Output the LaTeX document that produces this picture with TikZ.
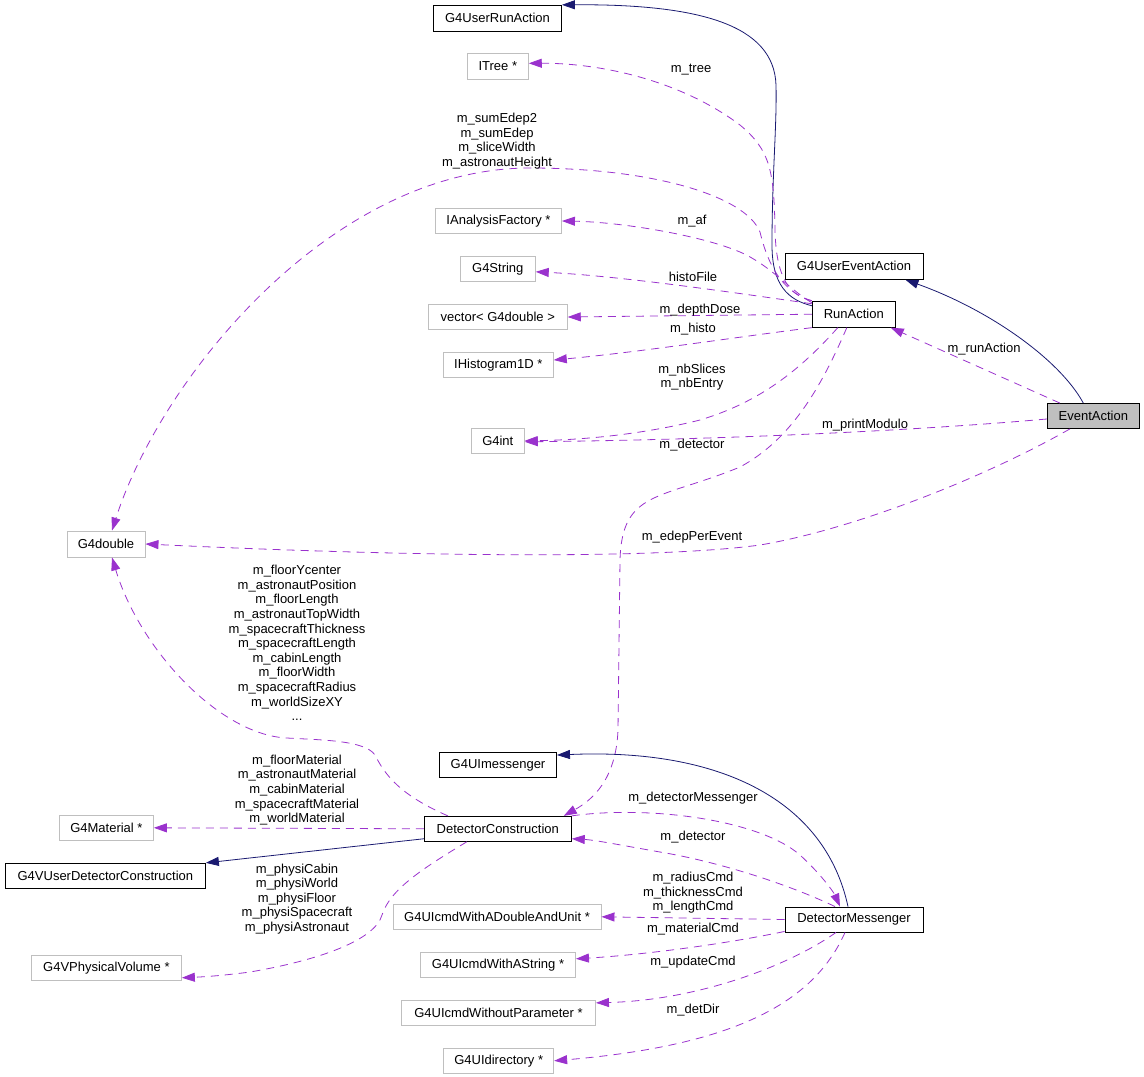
\documentclass[tikz,border=0pt]{standalone}
\usepackage{fontspec}
\setmainfont{Liberation Sans}
\usetikzlibrary{arrows.meta,calc}
\definecolor{navy}{HTML}{191970}
\definecolor{orchid}{HTML}{9A32CD}
\definecolor{boxgray}{HTML}{BFBFBF}
\begin{document}
\begin{tikzpicture}[x=1pt,y=-1pt,
  font=\fontsize{13}{14.6}\selectfont,
  cls/.style={draw=black,line width=0.9pt,inner sep=0pt,minimum height=25pt,align=center},
  ext/.style={draw=boxgray,line width=0.9pt,inner sep=0pt,minimum height=25pt,align=center},
  cur/.style={cls,fill=boxgray},
  inh/.style={draw=navy,line width=0.8pt,-{Triangle[length=13pt,width=9pt]},fill=none},
  mem/.style={draw=orchid,line width=0.8pt,dash pattern=on 8pt off 6pt,-{Triangle[length=13pt,width=9pt,fill=orchid]}},
  lbl/.style={inner sep=0pt,align=center}]
\useasboundingbox (0,0) rectangle (1144,1077);
% nodes
\node[cls,minimum width=128pt,minimum height=26pt] (urun) at (497.5,18.3) {G4UserRunAction};
\node[ext,minimum width=61pt,minimum height=26pt] (itree) at (497.8,66.3) {ITree *};
\node[ext,minimum width=126pt] (iaf) at (498.5,221) {IAnalysisFactory *};
\node[ext,minimum width=75pt] (g4str) at (497.8,268.8) {G4String};
\node[ext,minimum width=139pt] (vec) at (497.8,317) {vector< G4double >};
\node[ext,minimum width=110pt] (ihist) at (498.3,365) {IHistogram1D *};
\node[ext,minimum width=53pt] (g4int) at (497.8,440.8) {G4int};
\node[cls,minimum width=138pt,minimum height=26pt] (uevt) at (854,266.3) {G4UserEventAction};
\node[cls,minimum width=83pt,minimum height=26pt] (run) at (853.8,314.2) {RunAction};
\node[cur,minimum width=92pt] (evt) at (1093.3,416) {EventAction};
\node[ext,minimum width=78pt,minimum height=26pt] (g4d) at (106,544) {G4double};
\node[cls,minimum width=117pt] (uimsg) at (498,765) {G4UImessenger};
\node[ext,minimum width=94pt] (g4mat) at (106.4,827.8) {G4Material *};
\node[cls,minimum width=147pt] (dc) at (497.8,828.8) {DetectorConstruction};
\node[cls,minimum width=200pt] (vudc) at (105.4,875.8) {G4VUserDetectorConstruction};
\node[ext,minimum width=208pt] (cmddu) at (497,916.8) {G4UIcmdWithADoubleAndUnit *};
\node[cls,minimum width=138pt] (dm) at (854,919.5) {DetectorMessenger};
\node[ext,minimum width=150pt] (pv) at (106.4,967.8) {G4VPhysicalVolume *};
\node[ext,minimum width=155pt] (cmdstr) at (498,964.8) {G4UIcmdWithAString *};
\node[ext,minimum width=194pt] (cmdwop) at (498.5,1012.8) {G4UIcmdWithoutParameter *};
\node[ext,minimum width=110pt] (uidir) at (498.7,1060.8) {G4UIdirectory *};
% inheritance
\draw[inh] ($(run.north west)+(0,5)$) .. controls (788,300) and (772,285) .. (772,245)
  .. controls (772,175) and (777,125) .. (776,85) .. controls (774,25) and (700,4) .. (urun.north east);
\draw[inh] ($(evt.north)+(-10,0)$) .. controls (1060,360) and (990,310) .. ($(uevt.south east)+(-18,0)$);
\draw[inh] ($(dm.north)+(-6,0)$) .. controls (825,800) and (720,748) .. ($(uimsg.north east)+(0,3)$);
\draw[inh] ($(dc.south west)+(0,-3)$) -- (vudc.north east);
% RunAction members
\draw[mem] (run.north west) .. controls (785,295) and (776,270) .. (775,230)
  .. controls (774,170) and (770,150) .. (740,125) .. controls (680,80) and (600,63) .. ($(itree.east)+(0,-3)$);
\draw[mem] (run.north west) .. controls (782,292) and (768,265) .. (760,232)
  .. controls (745,195) and (650,168) .. (530,168) .. controls (330,168) and (160,380) .. ($(g4d.north)+(6,0)$);
\draw[mem] ($(run.north west)+(0,2)$) .. controls (790,290) and (770,265) .. (740,252)
  .. controls (700,235) and (620,222) .. (iaf.east);
\draw[mem] ($(run.north west)+(0,3)$) .. controls (730,292) and (620,276) .. ($(g4str.east)+(0,3)$);
\draw[mem] (run.west) -- (vec.east);
\draw[mem] (run.south west) .. controls (730,338) and (640,352) .. ($(ihist.east)+(0,-5)$);
\draw[mem] ($(run.south)+(-16,0)$) .. controls (800,370) and (760,402) .. (700,420)
  .. controls (640,435) and (580,440) .. (g4int.east);
\draw[mem] ($(run.south)+(-7,0)$) .. controls (820,390) and (790,440) .. (740,467)
  .. controls (660,500) and (622,490) .. (620,560) -- (618,730)
  .. controls (616,780) and (592,800) .. ($(dc.north east)+(-8,0)$);
% EventAction members
\draw[mem] ($(evt.north west)+(13,0)$) -- ($(run.south east)+(-5,0)$);
\draw[mem] ($(evt.west)+(0,3)$) .. controls (900,432) and (700,440) .. ($(g4int.east)+(0,1)$);
\draw[mem] ($(evt.south west)+(23,0)$) .. controls (980,480) and (850,530) .. (760,545)
  .. controls (650,560) and (400,556) .. (g4d.east);
% DetectorConstruction members
\draw[mem] ($(dc.north west)+(24,0)$) .. controls (400,795) and (385,775) .. (375,755)
  .. controls (365,740) and (320,740) .. (287,738) .. controls (220,735) and (140,650) .. ($(g4d.south)+(6,0)$);
\draw[mem] (dc.west) -- (g4mat.east);
\draw[mem] ($(dc.south west)+(43,0)$) .. controls (420,870) and (390,890) .. (382,915)
  .. controls (375,940) and (320,960) .. (250,972) .. controls (220,976) and (200,977) .. ($(pv.south east)+(0,-3)$);
\draw[mem] (dc.north east) .. controls (650,805) and (760,820) .. (800,855)
  .. controls (825,878) and (835,895) .. ($(dm.north)+(-14,0)$);
% DetectorMessenger members
\draw[mem] ($(dm.north)+(-19,0)$) .. controls (790,885) and (720,862) .. (660,852)
  .. controls (620,845) and (595,840) .. ($(dc.south east)+(0,-3)$);
\draw[mem] (dm.west) -- (cmddu.east);
\draw[mem] ($(dm.south west)+(0,-1)$) .. controls (720,945) and (640,955) .. ($(cmdstr.east)+(0,-6)$);
\draw[mem] ($(dm.south)+(-18,0)$) .. controls (790,965) and (700,1000) .. ($(cmdwop.north east)+(0,3)$);
\draw[mem] ($(dm.south)+(-9,0)$) .. controls (815,1000) and (740,1045) .. (uidir.east);
% labels
\node[lbl] (l1) at (691,70) {m\_tree};
\node[lbl] (l2) at (497,141) {m\_sumEdep2\\m\_sumEdep\\m\_sliceWidth\\m\_astronautHeight};
\node[lbl] (l3) at (692,221) {m\_af};
\node[lbl] (l4) at (693,277) {histoFile};
\node[lbl] (l5) at (700,310) {m\_depthDose};
\node[lbl] (l6) at (693,329) {m\_histo};
\node[lbl] (l7) at (692,377) {m\_nbSlices\\m\_nbEntry};
\node[lbl] (l8) at (692,445) {m\_detector};
\node[lbl] (l9) at (984,349) {m\_runAction};
\node[lbl] (l10) at (865,425) {m\_printModulo};
\node[lbl] (l11) at (692,537) {m\_edepPerEvent};
\node[lbl] (l12) at (297,643) {m\_floorYcenter\\m\_astronautPosition\\m\_floorLength\\m\_astronautTopWidth\\m\_spacecraftThickness\\m\_spacecraftLength\\m\_cabinLength\\m\_floorWidth\\m\_spacecraftRadius\\m\_worldSizeXY\\...};
\node[lbl] (l13) at (297,790) {m\_floorMaterial\\m\_astronautMaterial\\m\_cabinMaterial\\m\_spacecraftMaterial\\m\_worldMaterial};
\node[lbl] (l14) at (297,899) {m\_physiCabin\\m\_physiWorld\\m\_physiFloor\\m\_physiSpacecraft\\m\_physiAstronaut};
\node[lbl] (l15) at (693,798) {m\_detectorMessenger};
\node[lbl] (l16) at (693,837) {m\_detector};
\node[lbl] (l17) at (693,893) {m\_radiusCmd\\m\_thicknessCmd\\m\_lengthCmd};
\node[lbl] (l18) at (693,929) {m\_materialCmd};
\node[lbl] (l19) at (693,962) {m\_updateCmd};
\node[lbl] (l20) at (693,1010) {m\_detDir};
\end{tikzpicture}
\end{document}
